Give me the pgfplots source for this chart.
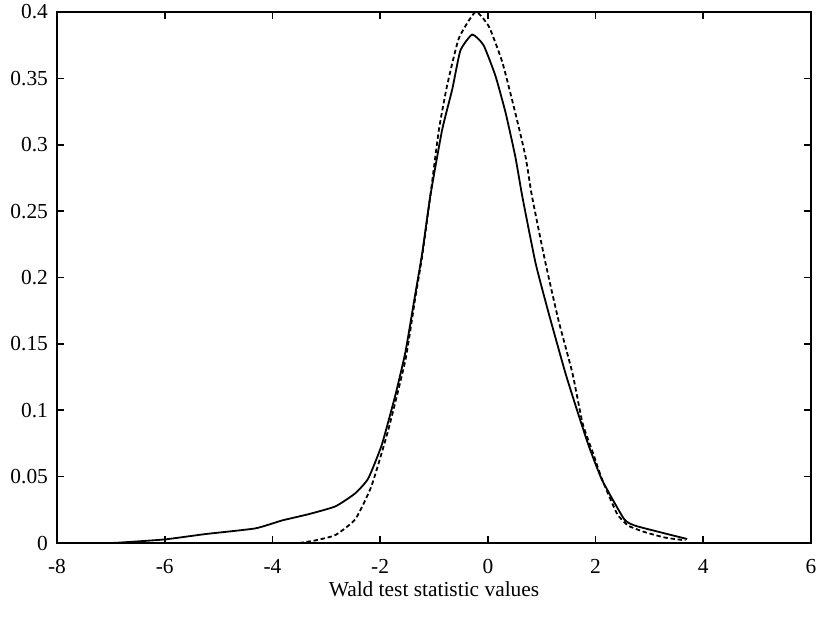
\documentclass[border=0pt]{standalone}
\usepackage{pgfplots}
\pgfplotsset{compat=1.18}
\usepackage{fontspec}
\setmainfont{Liberation Serif}
\begin{document}
\begin{tikzpicture}
\path[use as bounding box] (-28.5pt,-37.5pt) rectangle (382pt,271.5pt);
\begin{axis}[
  at={(0,0)}, anchor=south west,
  scale only axis,
  width=377pt, height=265.5pt,
  xmin=-8, xmax=6, ymin=0, ymax=0.4,
  xtick={-8,-6,-4,-2,0,2,4,6},
  xticklabels={-8,-6,-4,-2,0,2,4,6},
  ytick={0,0.05,0.1,0.15,0.2,0.25,0.3,0.35,0.4},
  yticklabels={0,0.05,0.1,0.15,0.2,0.25,0.3,0.35,0.4},
  tick align=inside,
  major tick length=3.5pt,
  tick style={black, line width=0.8pt},
  axis line style={black, line width=0.9pt},
  every tick label/.append style={font=\fontsize{10.7}{12}\selectfont},
  xticklabel style={yshift=-4.5pt},
  yticklabel style={xshift=-1pt},
  xlabel={Wald test statistic values},
  every axis x label/.style={at={(axis description cs:0.5,0)}, anchor=north, yshift=-16pt, font=\fontsize{10.7}{12}\selectfont},
  clip=true,
]
\addplot[black, line width=0.9pt, smooth, tension=0.3] coordinates {
(-7.0,0) (-6.8,0.0004) (-6.0,0.0027) (-5.25,0.0067) (-4.32,0.011) (-3.82,0.017)
(-3.33,0.0217) (-2.83,0.0276) (-2.46,0.0375) (-2.22,0.0487) (-1.97,0.0739)
(-1.72,0.111) (-1.53,0.144) (-1.35,0.187) (-1.22,0.218) (-1.07,0.261)
(-0.85,0.311) (-0.66,0.342) (-0.51,0.371) (-0.29,0.383) (-0.08,0.375)
(0.14,0.352) (0.33,0.324) (0.51,0.291) (0.64,0.261) (0.885,0.211)
(1.13,0.173) (1.44,0.128) (1.68,0.097) (1.875,0.073) (2.12,0.0475)
(2.53,0.018) (2.74,0.013) (3.24,0.0077) (3.70,0.003)
};
\addplot[black, line width=0.9pt, smooth, tension=0.3, dash pattern=on 2.2pt off 1.4pt] coordinates {
(-3.5,0) (-3.2,0.002) (-2.83,0.006) (-2.46,0.018) (-2.16,0.043) (-1.85,0.085)
(-1.53,0.138) (-1.35,0.184) (-1.22,0.216) (-1.07,0.261) (-0.91,0.311)
(-0.76,0.344) (-0.54,0.380) (-0.23,0.400) (0.02,0.389) (0.27,0.362)
(0.51,0.324) (0.70,0.291) (0.82,0.261) (1.07,0.211) (1.31,0.168)
(1.57,0.128) (1.76,0.090) (1.95,0.068) (2.12,0.048) (2.4,0.022)
(2.61,0.013) (2.93,0.008) (3.3,0.004) (3.67,0.002)
};
\end{axis}
\end{tikzpicture}
\end{document}
